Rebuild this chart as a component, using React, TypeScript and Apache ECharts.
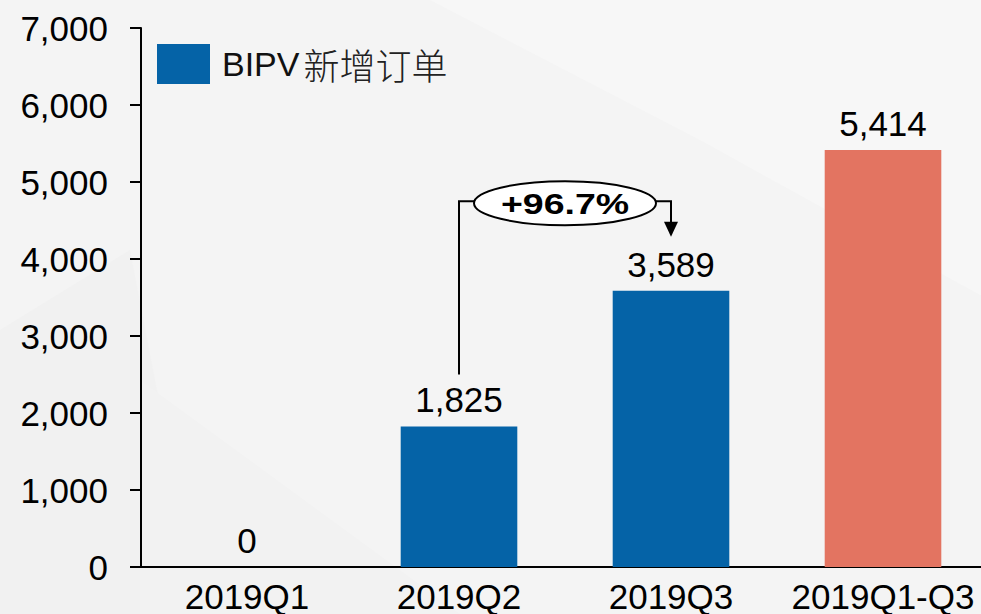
import React, { useEffect, useRef } from "react";
import * as echarts from "echarts";

const categories = ["2019Q1", "2019Q2", "2019Q3", "2019Q1-Q3"];
const orders = [0, 1825, 3589, 5414];
const seriesName = "BIPV新增订单";
const growthLabel = "+96.7%";
const yTicks = { min: 0, max: 7000, interval: 1000 };
// annotation anchors (data values)
const bracketBottomValue = 2500;
const bracketTopValue = 4750;
const arrowTipValue = 4290;

const BLUE = "#0563A7";
const SALMON = "#E37461";
const FONT = "'Liberation Sans', Arial, 'Noto Sans CJK SC', sans-serif";

export default function App() {
  const ref = useRef<HTMLDivElement>(null);
  useEffect(() => {
    if (!ref.current) return;
    const chart = echarts.init(ref.current, null, { renderer: "svg" });
    chart.setOption({
      animation: false,
      backgroundColor: "#f4f4f4",
      textStyle: { fontFamily: FONT },
      grid: { left: 141, top: 28, width: 848, height: 539, containLabel: false },
      legend: {
        left: 157,
        top: 44,
        padding: 0,
        itemWidth: 53,
        itemHeight: 40,
        icon: "rect",
        data: [{ name: seriesName, itemStyle: { color: BLUE } }],
        formatter: () => "{a|BIPV}{b|新增订单}",
        textStyle: {
          padding: [0, 0, 0, 7],
          rich: {
            a: { fontSize: 34, color: "#111", fontFamily: "'Liberation Sans', Arial, sans-serif" },
            b: {
              fontSize: 36,
              color: "#222",
              fontWeight: 300,
              fontFamily: "'Noto Sans CJK SC', sans-serif",
              padding: [0, 0, 0, 4],
            },
          },
        },
      },
      xAxis: {
        type: "category",
        data: categories,
        axisLine: { lineStyle: { color: "#000", width: 2 } },
        axisTick: { show: false },
        axisLabel: { interval: 0, fontSize: 35, lineHeight: 30, color: "#000", margin: 14, fontFamily: FONT },
      },
      yAxis: {
        type: "value",
        min: yTicks.min,
        max: yTicks.max,
        interval: yTicks.interval,
        splitLine: { show: false },
        axisLine: { show: true, lineStyle: { color: "#000", width: 2 } },
        axisTick: { show: true, length: 11, lineStyle: { color: "#000", width: 2 } },
        axisLabel: {
          fontSize: 35,
          color: "#000",
          margin: 33,
          fontFamily: FONT,
          formatter: (v: number) => v.toLocaleString("en-US"),
        },
      },
      series: [
        {
          name: seriesName,
          type: "bar",
          barWidth: "55%",
          data: orders.map((v, i) => ({
            value: v,
            itemStyle: { color: i === categories.length - 1 ? SALMON : BLUE },
          })),
          label: {
            show: true,
            position: "top",
            distance: 9,
            fontSize: 35,
            color: "#000",
            fontFamily: FONT,
            formatter: (p: any) => Number(p.value).toLocaleString("en-US"),
          },
        },
      ],
    });

    const px = (cat: string, val: number) =>
      chart.convertToPixel({ xAxisIndex: 0, yAxisIndex: 0 }, [cat, val]) as number[];
    const [x2, yBottom] = px(categories[1], bracketBottomValue);
    const [x3, yTop] = px(categories[2], bracketTopValue);
    const [, yTip] = px(categories[2], arrowTipValue);
    const cx = (x2 + x3) / 2;
    const rx = 91;
    const ry = 22;
    const cy = yTop + 2;

    chart.setOption({
      graphic: [
        {
          type: "polygon",
          silent: true,
          z: -10,
          shape: { points: [[430, 0], [989, 0], [989, 300], [700, 140]] },
          style: { fill: "#f7f7f7" },
        },
        {
          type: "polygon",
          silent: true,
          z: -10,
          shape: { points: [[0, 330], [130, 250], [200, 614], [0, 614]] },
          style: { fill: "#f1f1f1" },
        },
        {
          type: "polygon",
          silent: true,
          z: -10,
          shape: { points: [[140, 380], [460, 614], [140, 614]] },
          style: { fill: "#f2f2f2" },
        },
        {
          type: "line",
          silent: true,
          shape: { x1: 130, y1: 567, x2: 141, y2: 567 },
          style: { stroke: "#000", lineWidth: 2 },
        },
        {
          type: "polyline",
          silent: true,
          z: 10,
          shape: { points: [[x2, yBottom], [x2, yTop], [cx - rx, yTop]] },
          style: { stroke: "#000", lineWidth: 2, fill: "none" },
        },
        {
          type: "polyline",
          silent: true,
          z: 10,
          shape: { points: [[cx + rx, yTop], [x3, yTop], [x3, yTip - 14]] },
          style: { stroke: "#000", lineWidth: 2, fill: "none" },
        },
        {
          type: "polygon",
          silent: true,
          z: 10,
          shape: { points: [[x3 - 7, yTip - 15], [x3 + 7, yTip - 15], [x3, yTip]] },
          style: { fill: "#000" },
        },
        {
          type: "ellipse",
          silent: true,
          z: 10,
          shape: { cx, cy, rx, ry },
          style: { fill: "#fff", stroke: "#000", lineWidth: 2 },
        },
        {
          type: "text",
          silent: true,
          z: 11,
          x: cx,
          y: cy,
          scaleX: 1.25,
          style: {
            text: growthLabel,
            fontSize: 30,
            fontWeight: "bold",
            fontFamily: FONT,
            fill: "#000",
            align: "center",
            verticalAlign: "middle",
          },
        },
      ],
    });

    return () => chart.dispose();
  }, []);
  return (
    <div style={{ position: "fixed", left: 0, top: 0, width: 981, height: 614, overflow: "hidden" }}>
      <div ref={ref} style={{ width: 989, height: 614 }} />
    </div>
  );
}
